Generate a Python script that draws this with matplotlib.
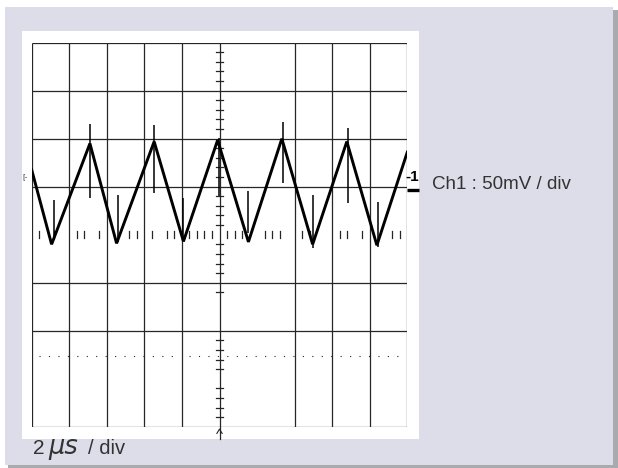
import numpy as np
import matplotlib.pyplot as plt
from matplotlib.patches import Rectangle

# scope screen, units are divisions (10 x 8)
grid_x = [0, 1, 2, 3, 4, 5, 7, 8, 9, 10]
grid_y = [0, 2, 3, 5, 6, 7, 8]

# trace vertices (start, troughs/peaks, end)
trace_x = [0.0, 0.53, 1.55, 2.26, 3.26, 4.04, 4.95, 5.77, 6.66, 7.48, 8.39, 9.19, 10.0]
trace_y = [5.35, 3.80, 5.90, 3.82, 5.94, 3.86, 5.97, 3.85, 6.00, 3.80, 5.94, 3.78, 5.72]

# switching spikes: x, low, high
spike_x = [0.60, 1.55, 2.31, 3.26, 4.04, 4.99, 5.75, 6.70, 7.50, 8.43, 9.21]
spike_lo = [3.89, 4.76, 3.85, 4.86, 3.90, 4.80, 4.03, 5.07, 3.72, 4.66, 3.75]
spike_hi = [4.72, 6.30, 4.83, 6.28, 4.76, 6.02, 4.90, 6.35, 4.83, 6.22, 4.69]

# minor ticks on the centre lines
center_ticks = [7.8, 7.6, 7.4, 7.2, 6.8, 6.6, 6.4, 6.2, 5.8, 5.6, 5.4, 5.2,
                4.8, 4.6, 4.4, 4.2, 3.8, 3.6, 3.4, 3.2, 2.8,
                1.8, 1.6, 1.4, 1.2, 0.8, 0.6, 0.4, 0.2]
row_ticks = [0.2, 0.6, 1.2, 1.4, 1.8, 2.6, 2.8, 3.2, 3.6, 3.8, 4.2, 4.4, 4.6, 4.8,
             5.2, 5.4, 5.6, 6.2, 6.4, 6.6, 7.2, 7.4, 8.2, 8.4, 8.8, 9.6, 9.8]

W, H = 618, 468
fig = plt.figure(figsize=(W / 100, H / 100), dpi=100)
fig.patch.set_facecolor('white')

def fx(px):
    return px / W

def fy(py):
    return 1 - py / H

# background panel with shadow
fig.patches.append(Rectangle((fx(8), fy(468)), fx(610), 458 / H, transform=fig.transFigure,
                             facecolor='#a9aab0', edgecolor='none', zorder=0))
fig.patches.append(Rectangle((fx(5), fy(465)), fx(608), 458 / H, transform=fig.transFigure,
                             facecolor='#dcdde8', edgecolor='none', zorder=1))
# white screen
fig.patches.append(Rectangle((fx(22), fy(439)), fx(396.6), 408 / H, transform=fig.transFigure,
                             facecolor='white', edgecolor='none', zorder=2))

ax = fig.add_axes([fx(31.7), fy(426.7), fx(375.6), 384 / H])
ax.set_zorder(5)
ax.set_xlim(0, 10)
ax.set_ylim(0, 8)
ax.axis('off')
ax.patch.set_visible(False)

gc = '#262626'
for x in grid_x:
    ax.plot([x, x], [0, 8], color=gc, lw=0.9, solid_capstyle='butt')
for y in grid_y:
    ax.plot([0, 10], [y, y], color=gc, lw=0.9, solid_capstyle='butt')

# centre line extends below the grid, with the trigger arrow
ax.plot([5, 5], [0, -0.26], color=gc, lw=0.9, clip_on=False)
ax.plot([4.93, 5, 5.07], [-0.14, -0.05, -0.14], color=gc, lw=0.8, clip_on=False)

for t in center_ticks:
    ax.plot([4.9, 5.1], [t, t], color=gc, lw=0.9)
for t in row_ticks:
    ax.plot([t, t], [3.93, 4.07], color=gc, lw=0.9)

# dotted reference line
ax.plot([0.2, 3.9], [1.48, 1.48], color=gc, lw=0.8, linestyle=(0, (1, 7.5)))
ax.plot([4.2, 9.8], [1.48, 1.48], color=gc, lw=0.8, linestyle=(0, (1, 7.5)))

# waveform
ax.plot(trace_x, trace_y, color='black', lw=2.1, solid_joinstyle='miter', zorder=5)
ax.vlines(spike_x, spike_lo, spike_hi, color='black', lw=1.1, zorder=5)

# channel markers
ax.text(-0.12, 5.2, '[-', fontsize=5, color=gc, ha='right', va='center', clip_on=False)
ax.text(10.14, 5.2, '-1', fontsize=11, fontweight='bold', color='black', ha='center', va='center',
        family='Liberation Sans', clip_on=False)
ax.plot([10.0, 10.3], [4.94, 4.94], color='black', lw=2.4, clip_on=False, solid_capstyle='butt')

font = 'Liberation Sans'
fig.text(fx(431.7), fy(189.3), 'Ch1 : 50mV / div', fontsize=13.5, color='#333333',
         family=font, va='baseline', ha='left')
fig.text(fx(33.3), fy(453.5), '2', fontsize=15, color='#333333', family=font, va='baseline')
fig.text(fx(48), fy(453.5), 'μs', fontsize=18.5, color='#333333', family='DejaVu Sans',
         style='italic', va='baseline')
fig.text(fx(88), fy(453.5), '/ div', fontsize=14.5, color='#333333', family=font, va='baseline')

fig.savefig('out.png', dpi=100)
